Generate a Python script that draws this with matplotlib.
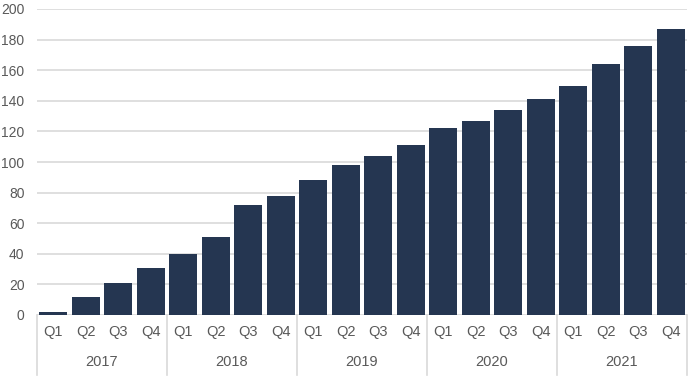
import numpy as np
import matplotlib.pyplot as plt
import matplotlib.transforms as mtransforms

plt.rcParams['font.family'] = ['Liberation Sans', 'DejaVu Sans']

years = ['2017', '2018', '2019', '2020', '2021']
quarters = ['Q1', 'Q2', 'Q3', 'Q4']
values = [2, 12, 21, 31,
          40, 51, 72, 78,
          88, 98, 104, 111,
          122, 127, 134, 141,
          150, 164, 176, 187]

bar_color = '#253651'
text_color = '#595959'
grid_color = '#d9d9d9'

fig = plt.figure(figsize=(6.89, 3.83), dpi=100)
ax = fig.add_axes([37 / 689, 1 - 315 / 383, 650 / 689, 306 / 383])

x = np.arange(len(values))
ax.bar(x, values, width=0.87, color=bar_color, zorder=3)

ax.set_xlim(-0.5, len(values) - 0.5)
ax.set_ylim(0, 200)
ax.set_yticks(np.arange(0, 201, 20))
ax.yaxis.grid(True, color=grid_color, linewidth=1.2, zorder=0)
ax.tick_params(axis='y', length=0, pad=9, labelsize=10, labelcolor=text_color)

ax.set_xticks(x)
ax.set_xticklabels(quarters * len(years))
ax.tick_params(axis='x', length=0, pad=7, labelsize=10.5, labelcolor=text_color)

for s in ax.spines.values():
    s.set_visible(False)

trans = mtransforms.blended_transform_factory(ax.transData, ax.transAxes)
for i in range(len(years) + 1):
    xs = i * 4 - 0.5
    ax.plot([xs, xs], [0, -0.196], transform=trans, color=grid_color,
            linewidth=1.2, clip_on=False)
for i, yr in enumerate(years):
    ax.text(i * 4 + 1.5, -0.155, yr, transform=trans, ha='center', va='center',
            fontsize=10.5, color=text_color)

fig.savefig('out.png', dpi=100)
